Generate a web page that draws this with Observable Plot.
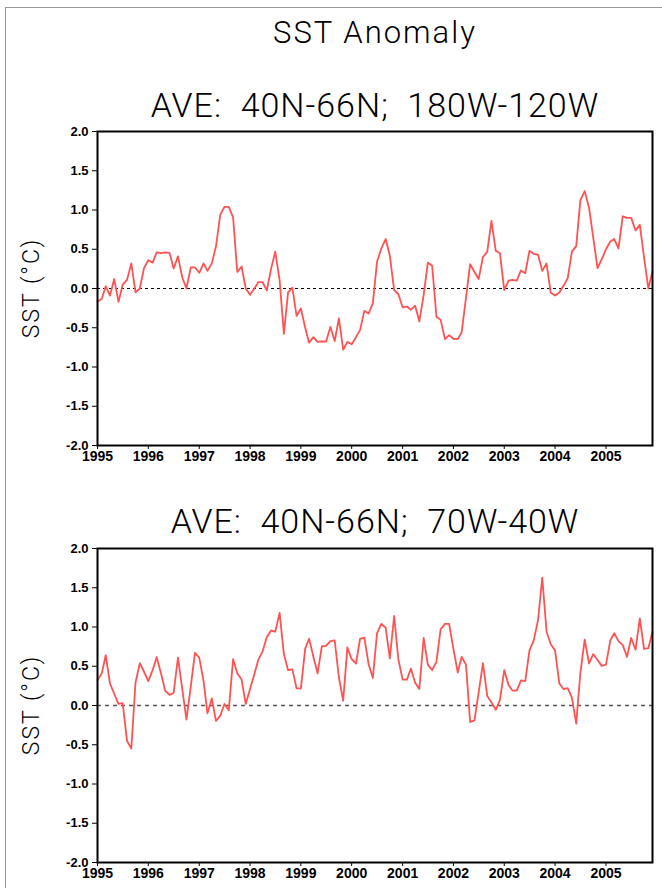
<!DOCTYPE html>
<html>
<head>
<meta charset="utf-8">
<script src="https://cdn.jsdelivr.net/npm/d3@7"></script>
<script src="https://cdn.jsdelivr.net/npm/@observablehq/plot@0.6"></script>
<style>
  html, body { margin: 0; padding: 0; background: #fff; overflow: hidden; }
  #page { position: relative; width: 662px; height: 888px; font-family: "Liberation Sans", Arial, sans-serif; }
  .panel { position: absolute; left: 0; }
  .panel svg g[aria-label^="x-axis"] text { font-size: 14px; font-weight: bold; }
  .panel svg g[aria-label^="y-axis"] text { font-size: 13px; font-weight: bold; }
  #overlay { position: absolute; left: 0; top: 0; pointer-events: none; }
  #overlay text { font-family: Roboto, "Liberation Sans", Arial, sans-serif; font-weight: 300; fill: #000; white-space: pre; }
</style>
</head>
<body>
<div id="page">
  <div style="position:absolute;left:5px;top:7px;right:-10px;bottom:-10px;border-left:1px solid #999;border-top:1px solid #999;"></div>
  <div id="p1" class="panel" style="top:121px"></div>
  <div id="p2" class="panel" style="top:538px"></div>
  <svg id="overlay" width="662" height="888"></svg>
</div>
<script>
// ---- data ----
const startYear = 1995;
const yearTicks = [1995, 1996, 1997, 1998, 1999, 2000, 2001, 2002, 2003, 2004, 2005];
const yTicks = [-2.0, -1.5, -1.0, -0.5, 0.0, 0.5, 1.0, 1.5, 2.0];
const mainTitle = "SST Anomaly";
const title1 = "AVE:  40N-66N;  180W-120W";
const title2 = "AVE:  40N-66N;  70W-40W";
const yLabel = "SST (°C)";

// monthly SST anomaly, Jan 1995 .. Dec 2005, 40N-66N 180W-120W
const sstPacific = [
  -0.17,-0.13,0.03,-0.09,0.12,-0.17,0.05,0.11,0.32,-0.05,0.00,0.26,
  0.36,0.33,0.46,0.45,0.46,0.455,0.255,0.41,0.14,0.00,0.27,0.27,
  0.20,0.32,0.225,0.32,0.535,0.94,1.04,1.04,0.91,0.21,0.28,0.00,
  -0.08,0.00,0.08,0.08,-0.025,0.25,0.47,0.11,-0.58,-0.05,0.01,-0.35,
  -0.255,-0.50,-0.69,-0.62,-0.68,-0.675,-0.675,-0.49,-0.67,-0.38,-0.78,-0.68,
  -0.71,-0.62,-0.53,-0.285,-0.32,-0.19,0.34,0.51,0.63,0.42,-0.02,-0.07,
  -0.24,-0.23,-0.27,-0.22,-0.42,-0.085,0.33,0.29,-0.36,-0.40,-0.645,-0.595,
  -0.64,-0.645,-0.56,-0.12,0.31,0.21,0.12,0.40,0.47,0.86,0.48,0.45,
  -0.02,0.10,0.11,0.10,0.23,0.195,0.48,0.44,0.43,0.225,0.32,-0.055,
  -0.09,-0.05,0.034,0.13,0.47,0.54,1.125,1.24,1.03,0.65,0.26,0.37,
  0.50,0.60,0.63,0.51,0.92,0.90,0.90,0.74,0.81,0.40,0.00,0.22
];
// monthly SST anomaly, Jan 1995 .. Dec 2005, 40N-66N 70W-40W
const sstAtlantic = [
  0.32,0.41,0.64,0.28,0.15,0.02,0.03,-0.45,-0.55,0.29,0.54,0.43,
  0.31,0.45,0.615,0.41,0.19,0.135,0.16,0.61,0.21,-0.18,0.24,0.67,
  0.61,0.31,-0.10,0.09,-0.195,-0.13,0.02,-0.06,0.59,0.41,0.33,0.02,
  0.21,0.40,0.58,0.69,0.87,0.955,0.94,1.18,0.655,0.45,0.46,0.22,
  0.215,0.725,0.85,0.62,0.41,0.755,0.76,0.82,0.83,0.36,0.06,0.74,
  0.59,0.535,0.85,0.865,0.53,0.35,0.92,1.04,0.99,0.60,1.14,0.59,
  0.33,0.33,0.47,0.29,0.21,0.86,0.52,0.45,0.56,0.97,1.04,1.04,
  0.72,0.42,0.62,0.52,-0.21,-0.19,0.165,0.54,0.12,0.04,-0.055,0.07,
  0.45,0.26,0.19,0.19,0.32,0.31,0.70,0.83,1.09,1.63,0.94,0.78,
  0.70,0.28,0.21,0.22,0.10,-0.23,0.42,0.84,0.535,0.655,0.58,0.505,
  0.52,0.83,0.92,0.82,0.77,0.62,0.86,0.71,1.11,0.72,0.73,0.94
];

// ---- build ----
const toRows = vals => vals.map((v, i) => ({date: new Date(Date.UTC(startYear, i, 1)), value: v}));
const xDomain = [new Date(Date.UTC(startYear, 0, 1)), new Date(Date.UTC(startYear, sstPacific.length - 1, 1))];
const xTickDates = yearTicks.map(y => new Date(Date.UTC(y, 0, 1)));

function panel(vals, dash) {
  return Plot.plot({
    width: 662,
    height: 350,
    marginLeft: 97,
    marginRight: 10,
    marginTop: 10,
    marginBottom: 26,
    style: {fontFamily: "Liberation Sans, Arial, sans-serif", fontSize: "12px", color: "#000", background: "transparent", overflow: "visible"},
    x: {type: "utc", domain: xDomain, ticks: xTickDates, tickFormat: d => String(d.getUTCFullYear()), tickSize: 4, tickPadding: 2, label: null},
    y: {domain: [-2, 2], ticks: yTicks, tickFormat: d => d3.format(".1f")(d).replace("−", "-"), tickSize: 5, tickPadding: 4, label: null},
    marks: [
      Plot.ruleY([0], {stroke: dash.color, strokeDasharray: dash.pattern, strokeWidth: dash.width}),
      Plot.line(toRows(vals), {x: "date", y: "value", stroke: "#ff5252", strokeWidth: 1.8}),
      Plot.frame({stroke: "#000", strokeWidth: 2})
    ]
  });
}

document.getElementById("p1").append(panel(sstPacific, {color: "#000", pattern: "3,3", width: 1}));
document.getElementById("p2").append(panel(sstAtlantic, {color: "#555", pattern: "4,4", width: 1.5}));

const ov = d3.select("#overlay");
ov.append("text").attr("x", 375).attr("y", 43).attr("text-anchor", "middle")
  .attr("font-size", 31).attr("letter-spacing", 2).text(mainTitle);
ov.append("text").attr("x", 375).attr("y", 117).attr("text-anchor", "middle")
  .attr("font-size", 34).attr("letter-spacing", 1).text(title1);
ov.append("text").attr("x", 375).attr("y", 533).attr("text-anchor", "middle")
  .attr("font-size", 34).attr("letter-spacing", 1).text(title2);
[288, 705].forEach(cy => {
  ov.append("text").attr("transform", `translate(39,${cy}) rotate(-90)`).attr("text-anchor", "middle")
    .attr("font-size", 23).attr("letter-spacing", 2).text(yLabel);
});
</script>
</body>
</html>
